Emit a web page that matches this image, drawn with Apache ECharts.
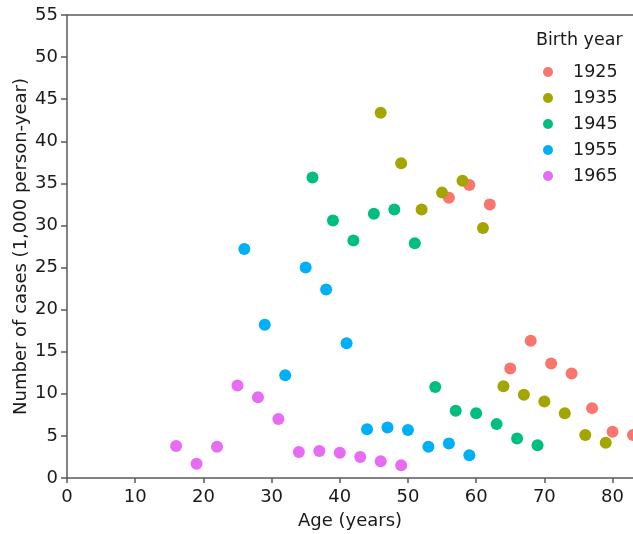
<!DOCTYPE html>
<html><head><meta charset="utf-8">
<script src="https://cdn.jsdelivr.net/npm/echarts@6/dist/echarts.min.js"></script>
<style>html,body{margin:0;padding:0;background:#fff}#c{width:633px;height:534px}</style>
</head><body><div id="c"></div>
<script>
const cohorts = ['1925','1935','1945','1955','1965'];
const colors = ['#F8766D','#A3A500','#00BF7D','#00B0F6','#E76BF3'];
const age1925 = [56,59,62,65,68,71,74,77,80,83];
const val1925 = [33.3,34.8,32.5,13.0,16.3,13.6,12.4,8.3,5.5,5.1];
const age1935 = [46,49,52,55,58,61,64,67,70,73,76,79];
const val1935 = [43.4,37.4,31.9,33.9,35.3,29.7,10.9,9.9,9.1,7.7,5.1,4.2];
const age1945 = [36,39,42,45,48,51,54,57,60,63,66,69];
const val1945 = [35.7,30.6,28.2,31.4,31.9,27.9,10.8,8.0,7.7,6.4,4.7,3.9];
const age1955 = [26,29,32,35,38,41,44,47,50,53,56,59];
const val1955 = [27.2,18.2,12.2,25.0,22.4,16.0,5.8,6.0,5.7,3.7,4.1,2.7];
const age1965 = [16,19,22,25,28,31,34,37,40,43,46,49];
const val1965 = [3.8,1.7,3.7,11.0,9.6,7.0,3.1,3.2,3.0,2.5,2.0,1.5];
const ages = [age1925, age1935, age1945, age1955, age1965];
const vals = [val1925, val1935, val1945, val1955, val1965];

const font = 'DejaVu Sans, Liberation Sans, Arial, sans-serif';
const textColor = '#1a1a1a';
const axisColor = '#5a5a5a';
const chart = echarts.init(document.getElementById('c'), null, {renderer:'canvas'});
chart.setOption({
  animation: false,
  color: colors,
  textStyle: {fontFamily: font},
  title: {text: 'Birth year', left: 536, top: 31, padding: 0,
    textStyle: {fontSize: 17.5, fontWeight: 'normal', color: textColor, fontFamily: font}},
  legend: {
    orient: 'vertical', left: 543, top: 63, padding: 0,
    itemWidth: 10, itemHeight: 10, itemGap: 8,
    icon: 'circle',
    textStyle: {fontSize: 17.5, color: textColor, padding: [0,0,0,15], fontFamily: font},
    data: cohorts
  },
  grid: {left: 67, top: 15, right: 0, bottom: 56, containLabel: false, outerBoundsMode: 'none'},
  xAxis: [{
    type: 'value', min: 0, max: 83, interval: 10,
    name: 'Age (years)', nameLocation: 'middle', nameGap: 34, nameMoveOverlap: false,
    nameTextStyle: {fontSize: 18, color: textColor, fontFamily: font},
    axisLine: {show: true, onZero: false, lineStyle: {color: axisColor, width: 1.5}},
    axisTick: {show: true, length: 5, lineStyle: {color: axisColor, width: 1.5}},
    axisLabel: {fontSize: 18, color: textColor, margin: 10, showMaxLabel: false, fontFamily: font},
    splitLine: {show: false}
  }, {
    type: 'value', min: 0, max: 83, position: 'top',
    axisLine: {show: true, onZero: false, lineStyle: {color: axisColor, width: 1.5}},
    axisTick: {show: false}, axisLabel: {show: false}, splitLine: {show: false}
  }],
  yAxis: {
    type: 'value', min: 0, max: 55, interval: 5,
    name: 'Number of cases (1,000 person-year)', nameLocation: 'middle', nameGap: 37, nameMoveOverlap: false,
    nameTextStyle: {fontSize: 18, color: textColor, fontFamily: font},
    axisLine: {show: true, onZero: false, lineStyle: {color: axisColor, width: 1.5}},
    axisTick: {show: true, length: 6, lineStyle: {color: axisColor, width: 1.5}},
    axisLabel: {fontSize: 18, color: textColor, margin: 9, fontFamily: font},
    splitLine: {show: false}
  },
  series: cohorts.map((c, i) => ({
    name: c, type: 'scatter', symbol: 'circle', symbolSize: 12,
    xAxisIndex: 0,
    itemStyle: {color: colors[i], opacity: 1},
    clip: false,
    data: ages[i].map((a, j) => [a, vals[i][j]])
  }))
});
</script></body></html>
